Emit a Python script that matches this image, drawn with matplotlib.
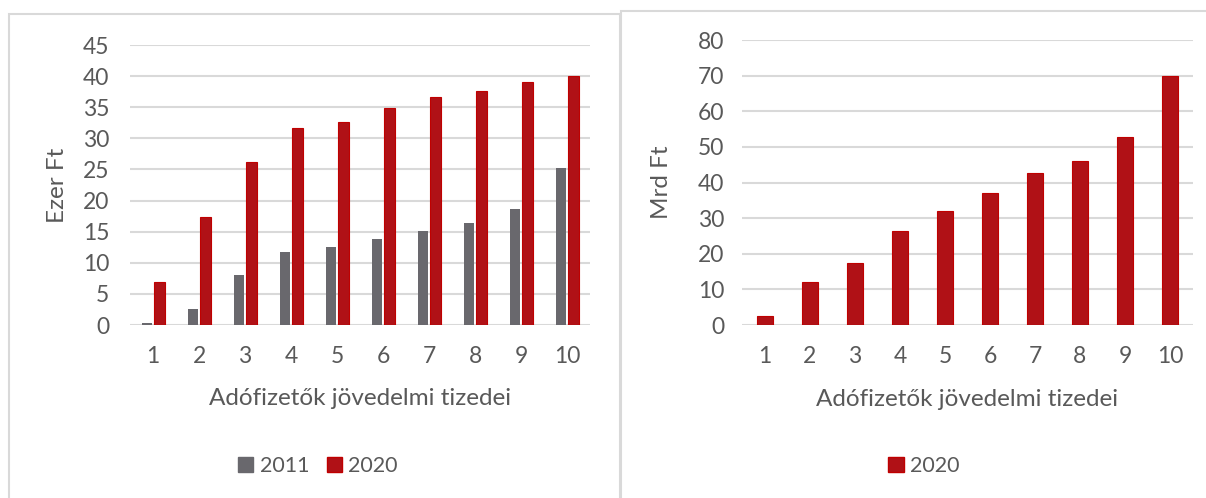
import matplotlib.pyplot as plt
import numpy as np
from matplotlib.patches import Rectangle, Patch

plt.rcParams['font.family'] = ['Lato', 'DejaVu Sans']

tizedek = [1, 2, 3, 4, 5, 6, 7, 8, 9, 10]
ezer_ft_2011 = [0.4, 2.6, 8.1, 11.7, 12.5, 13.9, 15.1, 16.4, 18.7, 25.3]
ezer_ft_2020 = [6.9, 17.4, 26.2, 31.6, 32.6, 34.8, 36.7, 37.6, 39.1, 40.0]
mrd_ft_2020 = [2.6, 12.1, 17.5, 26.3, 31.9, 37.0, 42.8, 45.9, 52.8, 69.9]

W, H = 1206, 498
GRAY = '#69686d'
RED = '#b01116'
RED_EDGE = '#c00000'
TXT = '#595959'
GRID = '#d9d9d9'
FS_TICK = 16.5
FS_LAB = 17.5

fig = plt.figure(figsize=(W / 100, H / 100), dpi=100)

# panel frames
fig.patches.append(Rectangle((9 / W, -0.1), 611 / W, 1.1 - 14 / H, transform=fig.transFigure,
                             fill=False, ec=GRID, lw=1.5))
fig.patches.append(Rectangle((621 / W, -0.1), 600 / W, 1.1 - 11 / H, transform=fig.transFigure,
                             fill=False, ec=GRID, lw=1.5))

ax1 = fig.add_axes([130 / W, 1 - 325 / H, 460 / W, 280 / H])
ax2 = fig.add_axes([742.5 / W, 1 - 325 / H, 450 / W, 285 / H])

x = np.array(tizedek)
ax1.bar(x - 0.14, ezer_ft_2011, width=0.22, color=GRAY, zorder=3)
ax1.bar(x + 0.14, ezer_ft_2020, width=0.25, color=RED, ec=RED_EDGE, lw=0.8, zorder=3)
ax1.set_ylim(0, 45)
ax1.set_yticks(range(0, 46, 5))
ax1.set_ylabel('Ezer Ft', fontsize=FS_LAB, color=TXT)
ax1.yaxis.set_label_coords(-0.135, 0.5)

ax2.bar(x, mrd_ft_2020, width=0.34, color=RED, ec=RED_EDGE, lw=0.8, zorder=3)
ax2.set_ylim(0, 80)
ax2.set_yticks(range(0, 81, 10))
ax2.set_ylabel('Mrd Ft', fontsize=FS_LAB, color=TXT)
ax2.yaxis.set_label_coords(-0.157, 0.5)

for ax, ypad in ((ax1, 15), (ax2, 13)):
    ax.set_xlim(0.5, 10.5)
    ax.set_xticks(tizedek)
    ax.set_xlabel('Adófizetők jövedelmi tizedei', fontsize=FS_LAB, color=TXT)
    ax.xaxis.set_label_coords(0.5, -0.225)
    ax.grid(axis='y', color=GRID, lw=1.5, zorder=0)
    for s in ax.spines.values():
        s.set_visible(False)
    ax.tick_params(axis='x', length=0, pad=15, labelsize=FS_TICK, labelcolor=TXT)
    ax.tick_params(axis='y', length=0, pad=ypad, labelsize=FS_TICK, labelcolor=TXT)
    ax.set_facecolor('none')

fig.legend(handles=[Patch(color=GRAY, label='2011'), Patch(fc=RED, ec=RED_EDGE, label='2020')],
           loc='center', bbox_to_anchor=(318 / W, 1 - 466 / H), ncol=2, frameon=False,
           fontsize=15.5, labelcolor=TXT, handlelength=0.7, handleheight=0.7,
           handletextpad=0.3, columnspacing=0.8)
fig.legend(handles=[Patch(fc=RED, ec=RED_EDGE, label='2020')],
           loc='center', bbox_to_anchor=(924 / W, 1 - 466 / H), frameon=False,
           fontsize=15.5, labelcolor=TXT, handlelength=0.7, handleheight=0.7,
           handletextpad=0.3)

fig.savefig('out.png', dpi=100)
